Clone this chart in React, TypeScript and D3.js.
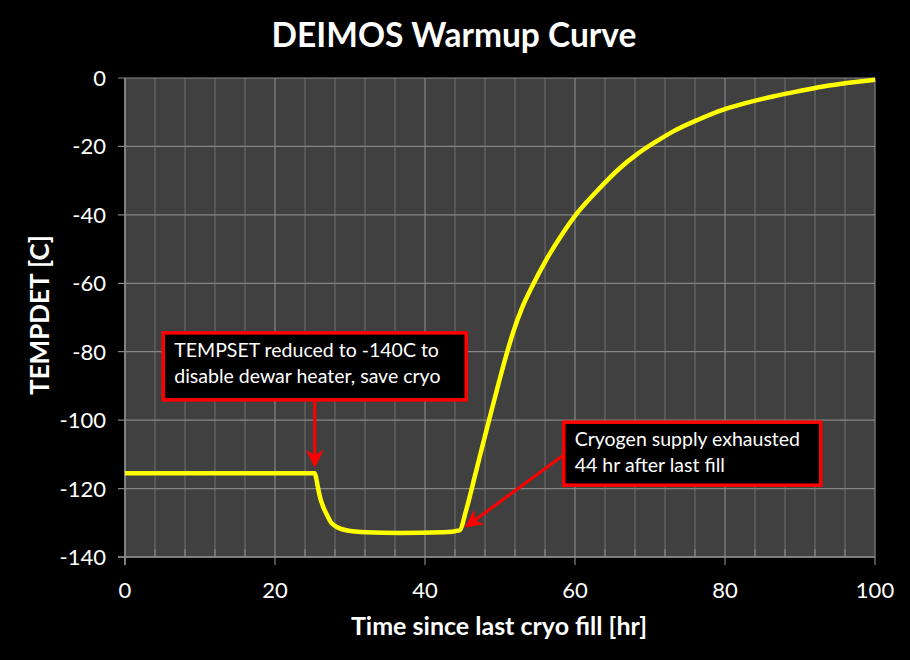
import React from "react";
import * as d3 from "d3";

// hours since last fill vs detector temperature
const hours = [0, 10, 20, 25.3, 25.5, 25.7, 26, 26.4, 27, 27.5, 28.3, 29.5, 32.2, 36.6, 42.4, 44.6,
    45.5, 46.6, 47.7, 48.6, 49.7, 50.8, 51.8, 52.9, 54.4, 56.2, 58.4, 60, 62.9, 66, 68.2, 70.8, 73.1,
    76.4, 79.7, 83, 86.4, 89.7, 93.1, 96.5, 100];
const tempdet = [-115.5, -115.5, -115.5, -115.5, -117, -119.4, -122.5, -125.2, -128, -130, -131.3, -132.2,
    -132.8, -133, -132.8, -132.2, -126.2, -116.8, -107.2, -99.5, -90.2, -81.3, -74, -67.4, -60.4, -53, -45.3,
    -40.3, -33.1, -26.3, -22.4, -18.6, -15.6, -12.2, -9.3, -7.2, -5.4, -3.9, -2.5, -1.4, -0.5];

const xTicks = [0, 20, 40, 60, 80, 100];
const xMinorTicks = d3.range(0, 101, 4);
const yTicks = [0, -20, -40, -60, -80, -100, -120, -140];

type Note = { lines: string[]; boxHour: number; boxTemp: number; boxW: number; boxH: number;
    fromHour: number; fromTemp: number; tipHour: number; tipTemp: number };

const notes: Note[] = [
    { lines: ["TEMPSET reduced to -140C to", "disable dewar heater, save cryo"],
        boxHour: 5.1, boxTemp: -74.5, boxW: 303, boxH: 67,
        fromHour: 25.3, fromTemp: -94, tipHour: 25.3, tipTemp: -113.4 },
    { lines: ["Cryogen supply exhausted", "44 hr after last fill"],
        boxHour: 58.5, boxTemp: -100.6, boxW: 257, boxH: 63,
        fromHour: 58.5, fromTemp: -110.2, tipHour: 45.5, tipTemp: -131.1 },
];

const layout = { width: 910, height: 660, left: 125, right: 875, top: 78, bottom: 557 };
const font = "Lato, 'Open Sans', sans-serif";

export default class App extends React.Component {
    private svgRef = React.createRef<SVGSVGElement>();

    public render() {
        return <div>
            <svg ref={this.svgRef} width={layout.width} height={layout.height} style={{ display: "block" }}></svg>
        </div>;
    }

    public componentDidMount() {
        document.body.style.margin = "0";
        document.body.style.background = "#000";
        this.draw();
    }

    private draw = (): void => {
        const x = d3.scaleLinear().domain([0, 100]).range([layout.left, layout.right]);
        const y = d3.scaleLinear().domain([-140, 0]).range([layout.bottom, layout.top]);

        const svg = d3.select(this.svgRef.current);
        svg.selectAll("*").remove();
        svg.append("rect").attr("width", layout.width).attr("height", layout.height).attr("fill", "#000");

        const defs = svg.append("defs");
        defs.append("marker")
            .attr("id", "arrow")
            .attr("viewBox", "0 0 10 10")
            .attr("refX", 9).attr("refY", 5)
            .attr("markerWidth", 6).attr("markerHeight", 6)
            .attr("markerUnits", "strokeWidth")
            .attr("orient", "auto")
            .append("path")
            .attr("d", "M0,0 L10,5 L0,10 L3,5 Z")
            .attr("fill", "#ff0000");

        svg.append("rect")
            .attr("x", layout.left).attr("y", layout.top)
            .attr("width", layout.right - layout.left).attr("height", layout.bottom - layout.top)
            .attr("fill", "#404040");

        // vertical grid, minor then major
        const minor = xMinorTicks.filter(d => d % 20 !== 0);
        svg.append("g").selectAll("line")
            .data(minor)
            .enter().append("line")
            .attr("x1", d => x(d)).attr("x2", d => x(d))
            .attr("y1", layout.top).attr("y2", layout.bottom)
            .attr("stroke", "#6e6e6e").attr("stroke-width", 1);
        svg.append("g").selectAll("line")
            .data(minor)
            .enter().append("line")
            .attr("x1", d => x(d)).attr("x2", d => x(d))
            .attr("y1", layout.bottom - 8).attr("y2", layout.bottom)
            .attr("stroke", "#8c8c8c").attr("stroke-width", 1);
        svg.append("g").selectAll("line")
            .data(xTicks)
            .enter().append("line")
            .attr("x1", d => x(d)).attr("x2", d => x(d))
            .attr("y1", layout.top).attr("y2", layout.bottom + 8)
            .attr("stroke", "#858585").attr("stroke-width", 1.2);

        svg.append("g").selectAll("line")
            .data(yTicks)
            .enter().append("line")
            .attr("x1", layout.left - 7).attr("x2", layout.right)
            .attr("y1", d => y(d)).attr("y2", d => y(d))
            .attr("stroke", "#858585").attr("stroke-width", 1.2);

        svg.append("line")
            .attr("x1", layout.left).attr("x2", layout.left)
            .attr("y1", layout.top).attr("y2", layout.bottom + 8)
            .attr("stroke", "#8c8c8c").attr("stroke-width", 1.5);
        svg.append("line")
            .attr("x1", layout.left - 7).attr("x2", layout.right)
            .attr("y1", layout.bottom).attr("y2", layout.bottom)
            .attr("stroke", "#8c8c8c").attr("stroke-width", 1.5);

        svg.append("g").selectAll("text")
            .data(xTicks)
            .enter().append("text")
            .attr("x", d => x(d)).attr("y", 598)
            .attr("text-anchor", "middle")
            .attr("font-family", font).attr("font-size", 22)
            .attr("fill", "#fff")
            .text(d => d);
        svg.append("g").selectAll("text")
            .data(yTicks)
            .enter().append("text")
            .attr("x", 106).attr("y", d => y(d) + 8)
            .attr("text-anchor", "end")
            .attr("font-family", font).attr("font-size", 22)
            .attr("fill", "#fff")
            .text(d => d);

        const line = d3.line<number>()
            .x((d, i) => x(hours[i]))
            .y(d => y(d))
            .curve(d3.curveMonotoneX);
        svg.append("path")
            .datum(tempdet)
            .attr("d", line)
            .attr("fill", "none")
            .attr("stroke", "#ffff00")
            .attr("stroke-width", 4.5)
            .attr("stroke-linejoin", "round");

        for (const note of notes) {
            const bx = x(note.boxHour);
            const by = y(note.boxTemp);
            svg.append("line")
                .attr("x1", x(note.fromHour)).attr("y1", y(note.fromTemp))
                .attr("x2", x(note.tipHour)).attr("y2", y(note.tipTemp))
                .attr("stroke", "#ff0000").attr("stroke-width", 3)
                .attr("marker-end", "url(#arrow)");
            svg.append("rect")
                .attr("x", bx).attr("y", by)
                .attr("width", note.boxW).attr("height", note.boxH)
                .attr("fill", "#000")
                .attr("stroke", "#ff0000").attr("stroke-width", 3.5);
            svg.append("g").selectAll("text")
                .data(note.lines)
                .enter().append("text")
                .attr("x", bx + 11)
                .attr("y", (d, i) => by + 24 + i * 26)
                .attr("font-family", font).attr("font-size", 19.5)
                .attr("fill", "#fff")
                .text(d => d);
        }

        svg.append("text")
            .attr("x", 454).attr("y", 47)
            .attr("text-anchor", "middle")
            .attr("font-family", font).attr("font-size", 33.5).attr("font-weight", "bold")
            .attr("fill", "#fff")
            .text("DEIMOS Warmup Curve");
        svg.append("text")
            .attr("x", 499).attr("y", 635)
            .attr("text-anchor", "middle")
            .attr("font-family", font).attr("font-size", 25).attr("font-weight", "bold")
            .attr("fill", "#fff")
            .text("Time since last cryo fill [hr]");
        svg.append("text")
            .attr("transform", "translate(49,315) rotate(-90)")
            .attr("text-anchor", "middle")
            .attr("font-family", font).attr("font-size", 26).attr("font-weight", "bold")
            .attr("fill", "#fff")
            .text("TEMPDET [C]");
    }
}
